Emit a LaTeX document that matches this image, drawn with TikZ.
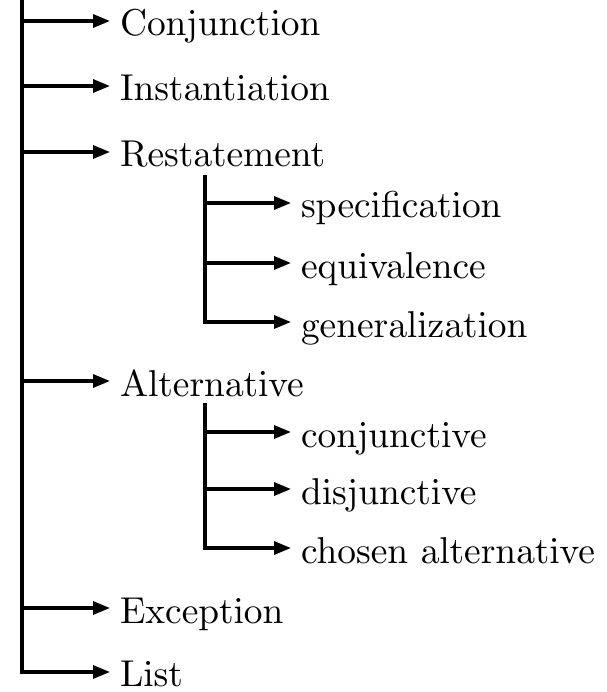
\documentclass[tikz,border=0pt]{standalone}
\usetikzlibrary{arrows.meta}
\font\lbl=cmr10 at 37.4pt
\begin{document}
\begin{tikzpicture}[x=1pt,y=1pt,
  arr/.style={line width=3.2pt,line join=miter,-{Triangle[length=17pt,width=13pt]}},
  lab/.style={anchor=base west,inner sep=0pt,outer xsep=10pt,font=\lbl}]
\useasboundingbox (0,0) rectangle (606,-692);
% main labels (base west anchor lies 10pt left of the text)
\node[lab] (nC) at (110,-36) {Conjunction};
\node[lab] (nI) at (110,-101) {Instantiation};
\node[lab] (nR) at (110,-167) {Restatement};
\node[lab] (nA) at (110,-396) {Alternative};
\node[lab] (nE) at (110,-623) {Exception};
\node[lab] (nL) at (110,-686) {List};
% sub labels
\node[lab] (ns) at (291,-218) {specification};
\node[lab] (ne) at (291,-278) {equivalence};
\node[lab] (ng) at (291,-337) {generalization};
\node[lab] (nc) at (291,-447) {conjunctive};
\node[lab] (nd) at (291,-504) {disjunctive};
\node[lab] (nh) at (291,-563) {chosen alternative};
% junctions
\coordinate (top) at (22,2);
\coordinate (jC) at (22,-21);
\coordinate (jI) at (22,-86);
\coordinate (jR) at (22,-152);
\coordinate (jA) at (22,-381);
\coordinate (jE) at (22,-608);
\coordinate (jL) at (22,-672);
\coordinate (rtop) at (205,-175);
\coordinate (js) at (205,-203);
\coordinate (je) at (205,-263);
\coordinate (jg) at (205,-322);
\coordinate (atop) at (205,-403);
\coordinate (jc) at (205,-432);
\coordinate (jd) at (205,-489);
\coordinate (jh) at (205,-548);
% trunk
\draw[arr] (top) -- (jL) -- (jL -| nL.west);
\foreach \j/\n in {jC/nC,jI/nI,jR/nR,jA/nA,jE/nE}
  \draw[arr] (\j) -- (\j -| \n.west);
% restatement subtree
\draw[arr] (rtop) -- (jg) -- (jg -| ng.west);
\draw[arr] (js) -- (js -| ns.west);
\draw[arr] (je) -- (je -| ne.west);
% alternative subtree
\draw[arr] (atop) -- (jh) -- (jh -| nh.west);
\draw[arr] (jc) -- (jc -| nc.west);
\draw[arr] (jd) -- (jd -| nd.west);
\end{tikzpicture}
\end{document}
